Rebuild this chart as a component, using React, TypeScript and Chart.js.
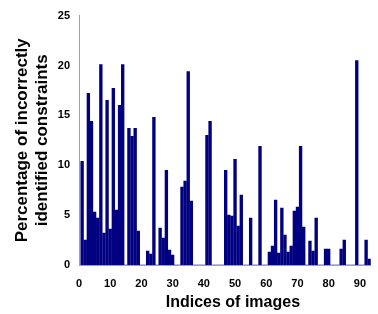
import { useEffect, useRef } from 'react';
import { Chart, registerables } from 'chart.js';

Chart.register(...registerables);

// Percentage of incorrectly identified constraints, for image indices 1..93
const percentages: number[] = [
  10.4, 2.5, 17.2, 14.4, 5.3, 4.7, 20.1, 3.2, 16.5, 3.6,
  17.7, 5.5, 16.0, 20.1, 0, 13.7, 12.9, 13.7, 3.4, 0,
  0, 1.4, 1.1, 14.8, 0, 3.7, 2.7, 9.5, 1.5, 1.0,
  0, 0, 7.8, 8.4, 19.4, 6.4, 0, 0, 0, 0,
  13.0, 14.4, 0, 0, 0, 0, 9.5, 5.0, 4.9, 10.6,
  3.9, 7.0, 0, 0, 4.7, 0, 0, 11.9, 0, 0,
  1.3, 1.9, 6.5, 1.2, 5.7, 3.0, 1.3, 1.9, 5.4, 5.8,
  11.9, 3.8, 0, 2.4, 1.4, 4.7, 0, 0, 1.6, 1.6,
  0, 0, 0, 1.6, 2.5, 0, 0, 0, 20.5, 0,
  0, 2.5, 0.6,
];

const xTickValues: number[] = [0, 10, 20, 30, 40, 50, 60, 70, 80, 90];
const yTickValues: number[] = [0, 5, 10, 15, 20, 25];

const xTitle = 'Indices of images';
const yTitle: string[] = ['Percentage of incorrectly', 'identified constraints'];

const FONT = "Arial, 'Liberation Sans', sans-serif";

// Draws the x-axis title slightly right of the plot centre, as in the reference
const xTitlePlugin = {
  id: 'xTitlePlugin',
  afterDraw(chart: any) {
    const { ctx, chartArea, height } = chart;
    ctx.save();
    ctx.font = `bold 16px ${FONT}`;
    ctx.fillStyle = '#000';
    ctx.textAlign = 'center';
    ctx.textBaseline = 'middle';
    ctx.fillText(xTitle, (chartArea.left + chartArea.right) / 2 + 8, height - 11);
    ctx.restore();
  },
};

export default function App() {
  const ref = useRef<HTMLCanvasElement>(null);

  useEffect(() => {
    document.body.style.margin = '0';
    const canvas = ref.current;
    if (!canvas) return;
    const chart = new Chart(canvas, {
      type: 'bar',
      data: {
        datasets: [
          {
            data: percentages.map((v, i) => ({ x: i + 1, y: v })),
            backgroundColor: '#000080',
            borderWidth: 0,
            barThickness: 2.7,
          },
        ],
      },
      options: {
        animation: false,
        responsive: false,
        maintainAspectRatio: false,
        layout: { padding: { top: 15, right: 0, bottom: 0, left: 0 } },
        plugins: {
          legend: { display: false },
          tooltip: { enabled: false },
        },
        scales: {
          x: {
            type: 'linear',
            min: 0,
            max: 93.5,
            offset: false,
            grid: { display: false, drawTicks: false },
            border: { display: true, color: '#a0a0a0', width: 1 },
            afterFit: (s: any) => {
              s.height = 49;
            },
            afterBuildTicks: (s: any) => {
              s.ticks = xTickValues.map((v) => ({ value: v }));
            },
            ticks: {
              autoSkip: false,
              maxRotation: 0,
              padding: 12,
              color: '#000',
              font: { family: FONT, size: 11, weight: 'bold' },
            },
            title: { display: false },
          },
          y: {
            min: 0,
            max: 25,
            grid: { display: false, drawTicks: false },
            border: { display: true, color: '#a0a0a0', width: 1 },
            afterFit: (s: any) => {
              s.width = 79;
            },
            afterBuildTicks: (s: any) => {
              s.ticks = yTickValues.map((v) => ({ value: v }));
            },
            ticks: {
              padding: 9,
              color: '#000',
              font: { family: FONT, size: 11, weight: 'bold' },
            },
            title: {
              display: true,
              text: yTitle,
              color: '#000',
              font: { family: FONT, size: 17, weight: 'bold', lineHeight: 1.2 },
              padding: { top: 12, bottom: 0 },
            },
          },
        },
      },
      plugins: [xTitlePlugin],
    } as any);
    return () => chart.destroy();
  }, []);

  return (
    <canvas
      ref={ref}
      width={378}
      height={314}
      style={{ display: 'block', width: 378, height: 314 }}
    />
  );
}
